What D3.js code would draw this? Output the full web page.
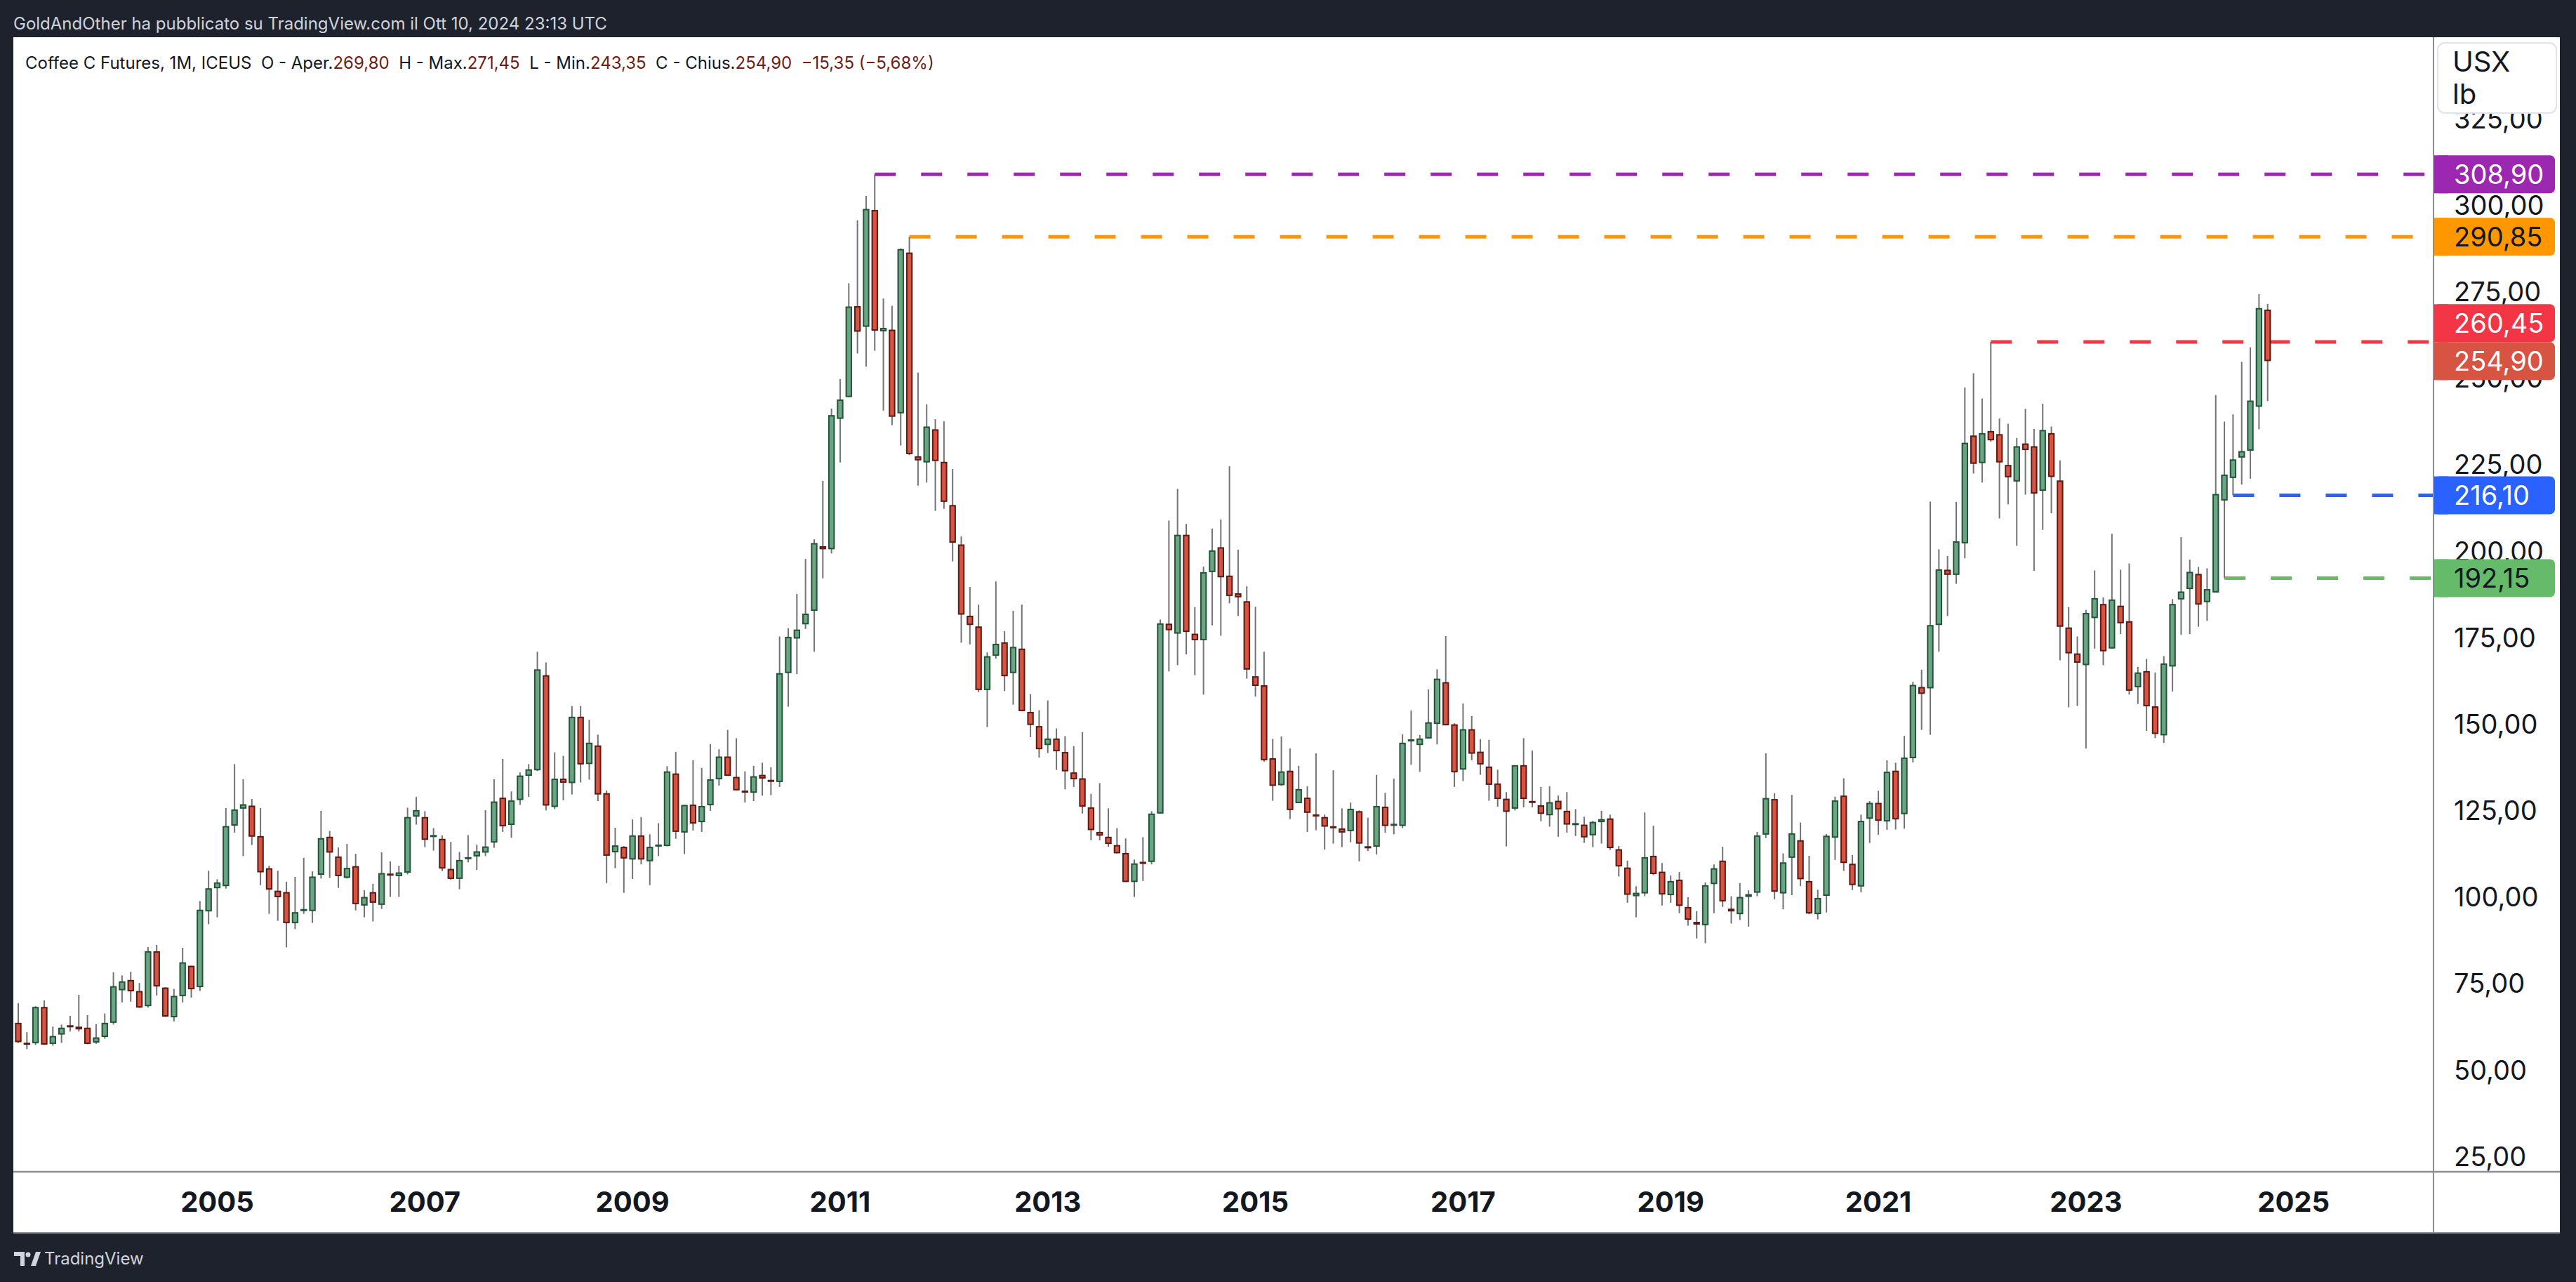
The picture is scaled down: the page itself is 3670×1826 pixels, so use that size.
<!DOCTYPE html>
<html><head><meta charset="utf-8">
<script src="https://cdn.jsdelivr.net/npm/d3@7"></script>
<style>html,body{margin:0;padding:0;background:#1e222d;} svg{display:block}</style>
</head><body>
<svg id="chart" width="3670" height="1826"></svg>
<script>
// ---------- DATA (monthly candles, Feb 2003 .. Oct 2024) ----------
const firstYear = 2003, firstMonth = 2;
const open = [
 63.6,57.7,57.7,68.2,57.5,60.2,62.8,62.5,62.2,57.9,59.5,
 63.6,73.0,76.0,72.8,68.4,84.3,73.8,65.2,71.3,80.1,73.9,95.8,
 102.5,103.1,120.6,125.5,126.4,117.6,108.3,101.8,101.4,92.4,96.0,95.9,
 106.4,117.4,111.7,105.5,108.9,97.5,101.4,97.7,106.6,106.0,107.0,123.2,
 123.1,117.5,116.8,108.1,105.2,110.9,111.7,112.8,115.7,128.7,120.8,128.0,
 135.0,136.6,164.1,126.0,134.2,132.9,152.1,138.4,143.8,130.0,112.9,114.5,
 110.8,117.8,110.3,114.8,114.7,135.7,118.6,126.7,121.6,126.5,134.0,140.6,
 134.7,130.8,130.1,135.3,133.9,133.2,164.7,174.7,178.8,182.7,201.4,200.5,
 238.2,244.5,270.8,264.8,298.6,263.5,264.0,239.8,286.3,227.4,225.6,235.2,
 225.8,213.3,201.9,181.3,178.2,159.8,169.7,173.6,164.7,171.8,153.5,149.4,
 143.9,145.8,141.9,136.0,134.3,125.9,118.8,117.4,115.0,112.7,104.3,109.9,
 110.1,124.1,179.0,176.1,204.7,176.1,174.2,193.9,201.1,192.9,187.8,185.5,
 163.8,161.2,140.1,132.3,136.5,127.1,128.7,123.9,123.1,120.2,119.8,119.0,
 124.8,114.6,114.5,126.1,120.8,120.5,145.2,143.9,145.8,150.0,162.1,149.9,
 136.8,148.5,142.0,137.7,132.8,128.4,125.5,138.1,127.8,126.5,123.6,127.8,
 124.9,121.0,120.9,117.8,121.6,122.7,113.8,108.5,100.2,101.0,111.9,107.3,
 100.5,105.0,97.1,92.8,91.8,103.7,110.5,96.6,95.0,100.0,101.2,118.0,
 128.3,101.0,111.3,116.4,104.6,95.0,100.3,117.1,129.3,109.6,103.0,122.6,
 127.2,121.8,136.5,123.9,140.1,160.7,160.3,178.6,194.6,193.1,202.2,233.4,
 225.4,234.7,233.8,224.9,220.1,231.1,230.3,217.4,234.1,220.4,177.9,170.4,
 167.0,180.6,184.7,171.8,184.2,179.7,160.6,165.3,155.1,146.7,166.6,186.0,
 189.0,193.4,185.2,188.0,214.6,221.1,227.0,229.0,241.7,269.80
];
const high = [
 69.3,60.9,68.4,70.1,62.5,63.1,65.6,71.7,65.8,63.2,66.3,
 78.2,77.3,78.4,75.1,85.5,86.1,73.9,73.4,85.3,80.1,98.8,107.6,
 105.1,125.7,138.4,134.0,128.3,125.7,109.0,107.6,104.4,105.8,111.3,107.4,
 124.9,119.1,114.3,115.3,112.5,101.9,103.8,112.9,110.3,109.0,125.8,128.9,
 124.8,119.9,117.8,115.9,113.0,117.9,115.1,125.1,134.0,139.9,130.5,136.0,
 138.4,170.9,167.8,141.8,140.8,155.2,155.2,151.2,146.9,130.8,120.0,114.7,
 122.4,123.1,118.1,121.3,137.8,141.9,126.6,139.5,137.3,144.2,142.7,148.3,
 145.9,136.3,137.9,138.8,137.5,175.3,177.7,187.6,197.7,203.4,220.3,241.2,
 249.7,277.4,295.6,302.7,308.9,273.0,270.9,287.5,290.85,251.6,242.4,238.1,
 237.5,223.7,204.2,189.6,184.5,170.7,191.2,176.8,182.7,184.5,158.6,154.0,
 156.8,148.7,146.5,143.6,147.6,129.8,132.9,125.6,119.9,116.9,110.8,117.3,
 124.8,180.2,208.8,218.0,207.8,183.8,195.5,206.5,209.1,224.5,200.4,189.8,
 183.9,170.9,145.7,146.4,142.9,137.9,132.0,141.5,123.8,136.6,125.6,127.3,
 125.0,122.9,135.3,130.1,134.2,147.0,153.9,146.8,160.0,165.8,175.4,150.2,
 155.9,152.3,145.6,145.4,136.8,130.3,138.1,145.9,142.3,131.8,132.0,129.3,
 130.3,125.4,123.2,122.0,124.9,123.8,114.7,110.5,103.1,124.4,120.6,109.8,
 106.2,107.2,99.9,95.9,104.2,109.4,114.5,100.2,104.0,101.9,118.8,141.5,
 130.0,112.6,129.5,121.5,111.9,102.1,118.2,129.0,134.3,112.1,123.8,127.7,
 130.7,139.5,138.8,146.6,162.2,165.7,214.3,200.5,198.6,214.2,247.3,251.4,
 244.1,260.45,238.3,236.8,232.7,241.1,235.3,242.6,236.0,226.2,183.8,175.3,
 183.0,194.4,186.6,205.0,194.6,196.4,166.5,168.8,164.9,169.6,186.1,204.0,
 197.5,195.4,195.0,245.1,237.4,239.5,254.7,258.9,274.3,271.45
];
const low = [
 57.8,56.0,57.2,57.2,57.0,57.8,61.1,61.1,57.4,57.5,59.0,
 63.1,69.5,69.7,67.9,68.0,71.5,65.3,64.0,69.5,70.9,72.8,92.1,
 94.1,102.4,118.6,111.8,115.0,103.4,95.1,93.1,85.4,90.7,95.1,92.5,
 105.3,105.5,102.6,105.3,96.1,94.1,92.9,96.5,100.0,100.0,106.5,120.9,
 114.4,113.4,107.5,104.9,102.2,110.0,107.8,111.8,114.2,118.8,117.1,126.6,
 128.9,136.4,125.0,125.4,127.9,129.6,133.1,133.9,127.7,104.0,108.3,101.2,
 105.2,109.4,103.4,111.8,114.6,116.8,112.4,119.2,118.8,124.9,132.2,135.0,
 130.8,127.3,127.7,129.3,129.4,131.8,155.0,164.4,177.5,170.9,192.1,199.3,
 225.6,244.5,257.1,253.3,257.9,240.6,236.4,230.5,227.7,218.9,219.8,211.6,
 212.2,197.0,173.5,173.0,159.2,149.1,168.9,159.5,155.6,153.7,146.2,140.3,
 141.6,136.7,131.1,131.8,124.1,116.4,116.4,114.5,112.6,104.3,100.0,104.6,
 109.4,124.1,165.2,167.0,170.1,164.1,158.5,178.5,175.5,184.9,181.2,163.1,
 157.9,139.1,127.8,132.1,122.5,127.1,118.8,119.3,113.7,115.4,114.4,115.8,
 110.3,113.3,112.3,118.6,118.1,119.9,138.2,136.2,145.8,144.1,149.6,131.8,
 133.5,139.5,135.3,127.8,126.1,114.6,125.0,125.9,125.9,121.9,120.3,117.4,
 118.6,117.6,115.6,114.4,115.4,113.6,105.9,98.3,94.1,100.2,106.3,97.5,
 98.3,95.3,91.7,88.0,86.6,95.3,97.1,92.3,93.3,91.4,100.2,117.0,
 99.3,96.4,100.5,103.1,95.0,93.5,95.5,110.7,107.5,102.0,101.3,115.6,
 118.0,119.4,119.5,119.7,138.9,148.3,146.9,170.9,181.2,190.5,197.9,222.4,
 219.8,231.6,209.4,213.5,201.5,216.3,194.3,206.1,210.9,168.4,154.8,155.2,
 142.9,171.8,167.0,171.8,176.0,158.5,155.8,148.0,145.9,144.5,159.4,175.8,
 176.0,178.1,179.8,188.0,192.15,216.1,219.2,220.9,235.2,243.35
];
const close = [
 58.0,57.4,68.2,57.3,59.8,62.2,62.4,61.7,57.5,59.4,63.6,
 74.2,75.6,72.7,68.0,84.3,74.1,65.4,71.4,81.1,73.3,96.3,102.5,
 104.2,120.5,125.3,126.8,117.4,107.1,102.1,99.9,92.4,95.6,96.4,105.9,
 117.0,112.8,106.0,108.4,97.9,100.0,98.3,106.9,106.3,107.1,123.1,125.1,
 116.5,117.7,108.2,105.2,110.7,111.5,113.2,114.6,127.6,120.4,127.9,135.1,
 136.9,165.8,126.4,134.2,133.0,152.1,138.3,144.6,129.6,111.9,114.9,111.1,
 117.8,110.8,114.5,114.9,136.3,118.8,126.6,121.2,126.3,134.0,140.6,135.0,
 130.8,130.1,134.9,134.2,133.2,164.7,175.2,177.3,181.9,202.3,200.5,239.3,
 243.8,270.7,263.4,298.9,263.7,264.5,238.8,287.3,228.0,226.2,236.0,226.0,
 214.2,202.4,181.6,178.6,159.8,169.6,173.2,163.8,172.3,153.7,149.7,142.7,
 145.8,142.1,136.3,134.0,126.1,119.3,117.7,115.3,112.6,104.3,109.7,109.8,
 124.1,179.1,177.1,204.7,176.6,174.2,193.9,200.2,192.4,187.0,186.6,165.7,
 161.0,139.5,132.1,136.3,125.1,131.2,124.3,123.2,120.3,120.1,118.6,125.5,
 115.4,114.1,126.3,120.5,120.9,144.6,145.3,145.8,150.5,163.1,149.6,136.0,
 148.5,141.4,138.3,132.4,128.3,124.6,138.1,128.3,127.1,124.0,127.4,125.3,
 120.9,121.1,117.2,121.7,122.5,114.1,108.8,100.6,101.2,111.5,106.6,100.7,
 104.6,97.4,93.4,92.0,103.4,108.3,98.7,95.8,100.0,100.8,117.8,128.6,
 101.5,110.0,118.4,105.1,95.2,99.7,117.7,127.9,109.8,103.4,122.0,127.2,
 122.0,136.2,122.4,140.3,161.3,158.7,178.6,194.7,193.1,202.8,231.3,225.2,
 234.1,232.0,225.6,221.3,230.3,229.2,216.6,235.0,221.4,178.1,170.4,167.7,
 182.1,186.4,171.0,186.0,179.1,159.6,164.9,155.1,147.1,167.5,184.7,188.3,
 194.0,184.5,189.0,216.5,222.1,226.5,228.9,243.5,270.25,254.90
];
const priceTicks = [25,50,75,100,125,150,175,200,225,250,275,300,325];
const yearTicks = [2005,2007,2009,2011,2013,2015,2017,2019,2021,2023,2025];
// horizontal levels: price, colour, label text colour, [year, month] of the starting candle
const levelPrices = [308.90, 290.85, 260.45, 216.10, 192.15];
const levelColors = ["#9c27b0", "#ff9800", "#f23645", "#2962ff", "#66bb6a"];
const levelTextColors = ["#ffffff", "#131722", "#ffffff", "#ffffff", "#131722"];
const levelStarts = [[2011,5],[2011,9],[2022,2],[2024,6],[2024,5]];
const headerText = "GoldAndOther ha pubblicato su TradingView.com il Ott 10, 2024 23:13 UTC";
const symbolText = "Coffee C Futures, 1M, ICEUS";
const unitLines = ["USX", "lb"];

// ---------- LAYOUT ----------
const FONT = "Inter, 'Liberation Sans', Arial, sans-serif";
const plot = {left: 19, right: 3466, top: 53, bottom: 1669};
const panel = {left: 19, right: 3647, top: 53, bottom: 1756};
const svg = d3.select("#chart");
const loc = d3.formatLocale({decimal: ",", thousands: ".", grouping: [3], currency: ["", ""]});
const fmt = loc.format(".2f");

const monthIndex = (yr, mo) => (yr - 2003) * 12 + (mo - 1);
const candles = open.map((o, i) => ({
  m: monthIndex(firstYear, firstMonth) + i, o, h: high[i], l: low[i], c: close[i]
}));

const x = d3.scaleLinear().domain([0.432, 280.09]).range([plot.left, plot.right]);
const y = d3.scaleLinear().domain([20.54, 348.95]).range([plot.bottom, 51]);
const step = x(1) - x(0);

// background
svg.append("rect").attr("width", 3670).attr("height", 1826).attr("fill", "#1e222d");
svg.append("rect").attr("x", panel.left).attr("y", panel.top)
  .attr("width", panel.right - panel.left).attr("height", panel.bottom - panel.top).attr("fill", "#ffffff");

// header
svg.append("text").attr("x", 19).attr("y", 42).attr("fill", "#d1d4dc")
  .attr("font-family", FONT).attr("font-size", 24).text(headerText);

// clip
svg.append("clipPath").attr("id", "plotclip").append("rect")
  .attr("x", plot.left).attr("y", plot.top).attr("width", plot.right - plot.left).attr("height", plot.bottom - plot.top);
const g = svg.append("g").attr("clip-path", "url(#plotclip)");

// level lines
levelPrices.forEach((p, i) => {
  const s = levelStarts[i];
  g.append("line").attr("x1", x(monthIndex(s[0], s[1]))).attr("x2", plot.right)
    .attr("y1", y(p)).attr("y2", y(p)).attr("stroke", levelColors[i]).attr("stroke-width", 5)
    .attr("stroke-dasharray", "30,36");
});

// candles
const bw = step * 0.76;
const up = {fill: "#6ba583", border: "#225437"};
const dn = {fill: "#d75442", border: "#5b1a13"};
const cg = g.append("g");
cg.selectAll("line.wick").data(candles).join("line").attr("class", "wick")
  .attr("x1", d => x(d.m)).attr("x2", d => x(d.m))
  .attr("y1", d => y(d.h)).attr("y2", d => y(d.l))
  .attr("stroke", "#737375").attr("stroke-width", 2);
candles.forEach(d => {
  const col = d.c >= d.o ? up : dn;
  const yt = y(Math.max(d.o, d.c)), yb = y(Math.min(d.o, d.c));
  const h = yb - yt;
  const x0 = x(d.m) - bw / 2;
  if (h < 3.5) {
    cg.append("rect").attr("x", x0).attr("y", (yt + yb) / 2 - 1.5).attr("width", bw).attr("height", 3)
      .attr("fill", col.border);
  } else {
    cg.append("rect").attr("x", x0 + 1).attr("y", yt + 1).attr("width", bw - 2).attr("height", h - 2)
      .attr("fill", col.fill).attr("stroke", col.border).attr("stroke-width", 2);
  }
});

// separators
svg.append("line").attr("x1", plot.right + 1).attr("x2", plot.right + 1).attr("y1", panel.top).attr("y2", panel.bottom)
  .attr("stroke", "#8a8d96").attr("stroke-width", 2);
svg.append("line").attr("x1", panel.left).attr("x2", panel.right).attr("y1", plot.bottom).attr("y2", plot.bottom)
  .attr("stroke", "#8a8d96").attr("stroke-width", 2.5);
svg.append("line").attr("x1", panel.left).attr("x2", panel.right).attr("y1", panel.bottom).attr("y2", panel.bottom)
  .attr("stroke", "#8a8d96").attr("stroke-width", 2);

// y axis labels
const labX = 3496;
svg.append("g").selectAll("text").data(priceTicks).join("text")
  .attr("x", labX).attr("y", d => y(d)).attr("dy", "0.36em")
  .attr("font-family", FONT).attr("font-size", 38).attr("fill", "#131722").text(d => fmt(d));

// x axis labels
svg.append("g").selectAll("text").data(yearTicks).join("text")
  .attr("x", d => x(monthIndex(d, 1))).attr("y", 1712).attr("dy", "0.36em").attr("text-anchor", "middle")
  .attr("font-family", FONT).attr("font-size", 40).attr("font-weight", "bold").attr("fill", "#131722").text(d => d);

// price label boxes
const last = candles[candles.length - 1], prev = candles[candles.length - 2];
const boxH = 54;
const boxes = levelPrices.map((p, i) => ({p, color: levelColors[i], tc: levelTextColors[i], cy: y(p)}));
const lastBox = {p: last.c, color: "#d75442", tc: "#ffffff", cy: y(last.c)};
boxes.push(lastBox);
// resolve overlap: push boxes above the current price box upwards
boxes.forEach(b => {
  if (b !== lastBox && b.cy < lastBox.cy && lastBox.cy - b.cy < boxH) b.cy = lastBox.cy - boxH;
});
const bg = svg.append("g");
boxes.forEach(b => {
  bg.append("rect").attr("x", plot.right + 2).attr("y", b.cy - boxH / 2).attr("width", 172).attr("height", boxH)
    .attr("rx", 7).attr("fill", b.color);
  bg.append("rect").attr("x", plot.right + 2).attr("y", b.cy - boxH / 2).attr("width", 20).attr("height", boxH)
    .attr("fill", b.color);
  bg.append("text").attr("x", labX).attr("y", b.cy).attr("dy", "0.36em")
    .attr("font-family", FONT).attr("font-size", 38).attr("fill", b.tc).text(fmt(b.p));
});

// unit box
svg.append("rect").attr("x", 3473).attr("y", 61).attr("width", 169).attr("height", 100).attr("rx", 10)
  .attr("fill", "#ffffff").attr("stroke", "#e0e3eb").attr("stroke-width", 2);
unitLines.forEach((t, i) => {
  svg.append("text").attr("x", 3494).attr("y", 102 + i * 46).attr("font-family", FONT).attr("font-size", 40)
    .attr("fill", "#131722").text(t);
});

// title legend
const darkT = "#131722", redT = "#6b1d16";
const chg = last.c - prev.c, pct = chg / prev.c * 100;
const minus = v => (v < 0 ? "\u2212" : "+") + fmt(Math.abs(v));
const parts = [
  [symbolText + "  O - Aper.", darkT], [fmt(last.o), redT],
  ["  H - Max.", darkT], [fmt(last.h), redT],
  ["  L - Min.", darkT], [fmt(last.l), redT],
  ["  C - Chius.", darkT], [fmt(last.c), redT],
  ["  " + minus(chg) + " (" + minus(pct) + "%)", redT]
];
const tt = svg.append("text").attr("x", 36).attr("y", 98).attr("font-family", FONT).attr("font-size", 24)
  .style("white-space", "pre");
parts.forEach(p => tt.append("tspan").attr("fill", p[1]).text(p[0]));

// footer logo + text
const lg = svg.append("g").attr("fill", "#d1d4dc");
lg.append("path").attr("d", "M20 1783 h15 v20 h-6 v-14 h-9 z");
lg.append("circle").attr("cx", 40).attr("cy", 1787).attr("r", 3.5);
lg.append("path").attr("d", "M44 1803 l7 -20 h7 l-7 20 z");
svg.append("text").attr("x", 63).attr("y", 1801).attr("font-family", FONT).attr("font-size", 24)
  .attr("fill", "#d1d4dc").text("TradingView");
</script>
</body></html>
